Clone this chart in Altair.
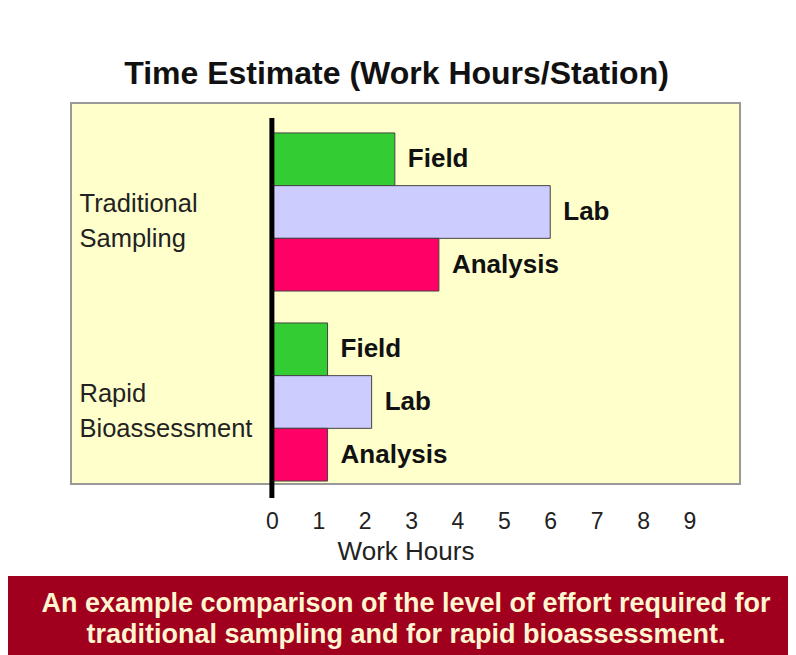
import altair as alt
import pandas as pd

# ---- data ----
groups = ["Traditional Sampling", "Traditional Sampling", "Traditional Sampling",
          "Rapid Bioassessment", "Rapid Bioassessment", "Rapid Bioassessment"]
tasks = ["Field", "Lab", "Analysis", "Field", "Lab", "Analysis"]
hours = [2.65, 6.0, 3.6, 1.2, 2.15, 1.2]

group_order = ["Traditional Sampling", "Rapid Bioassessment"]
task_order = ["Field", "Lab", "Analysis"]
task_colors = ["#33CC33", "#CCCCFF", "#FF0066"]
x_ticks = [0, 1, 2, 3, 4, 5, 6, 7, 8, 9]

title_text = "Time Estimate (Work Hours/Station)"
x_title = "Work Hours"
caption_lines = [
    "An example comparison of the level of effort required for",
    "traditional sampling and for rapid bioassessment.",
]

df = pd.DataFrame({"group": groups, "task": tasks, "hours": hours})
caption_df = pd.DataFrame({"caption": ["\n".join(caption_lines)]})

FONT = "Liberation Sans"

y_enc = alt.Y(
    "group:N",
    sort=group_order,
    scale=alt.Scale(paddingInner=0.168, paddingOuter=0.0866, align=0.91),
    axis=alt.Axis(
        title=None, domain=False, ticks=False, tickSize=0,
        labelPadding=-8, labelAlign="left", labelBaseline="middle",
        labelOffset=-8, labelExpr="split(datum.label, ' ')",
        labelFontSize=25.5, labelLineHeight=35, labelFont=FONT,
        labelColor="#222222", labelLimit=400,
    ),
)
yoff = alt.YOffset("task:N", sort=task_order,
                   scale=alt.Scale(paddingInner=0, paddingOuter=0))
x_scale = alt.Scale(domain=[-4.33, 10.09], nice=False, zero=False)
x_axis = alt.Axis(
    values=x_ticks, title=x_title, grid=False, domain=False, ticks=False,
    tickSize=0, labelPadding=26, labelFontSize=23, labelFont=FONT,
    labelColor="#222222", labelFlush=False,
    titleFont=FONT, titleFontSize=26, titleFontWeight="normal",
    titleColor="#222222", titlePadding=5,
)

base = alt.Chart(df)

bars = base.mark_bar(stroke="#444444", strokeWidth=1).encode(
    x=alt.X("hours:Q", scale=x_scale, axis=x_axis),
    x2=alt.datum(0),
    y=y_enc,
    yOffset=yoff,
    color=alt.Color("task:N", scale=alt.Scale(domain=task_order, range=task_colors), legend=None),
)

labels = base.mark_text(
    align="left", baseline="middle", dx=13, fontSize=26, fontWeight="bold",
    font=FONT, color="#111111",
).encode(
    x=alt.X("hours:Q", scale=x_scale),
    y=alt.Y("group:N", sort=group_order),
    yOffset=alt.YOffset("task:N", sort=task_order),
    text="task:N",
)

zero_line = alt.Chart(pd.DataFrame({"v": [0]})).mark_rule(color="black", strokeWidth=5).encode(
    x=alt.X("v:Q", scale=x_scale),
    y=alt.value(15),
    y2=alt.value(395),
)

banner = alt.Chart(caption_df).mark_rect(color="#A0001E").encode(
    x=alt.value(-63), x2=alt.value(717), y=alt.value(473), y2=alt.value(554),
)

caption = alt.Chart(caption_df).mark_text(
    align="center", baseline="middle", lineBreak="\n", lineHeight=31,
    fontSize=27, fontWeight="bold", font=FONT, color="#FFF5D0",
).encode(
    x=alt.value(335), y=alt.value(501), text="caption:N",
)

chart = alt.layer(banner, bars, zero_line, labels, caption).properties(
    width=669,
    height=381,
    title=alt.TitleParams(title_text, fontSize=32, font=FONT, fontWeight="bold",
                          color="#111111", offset=12, anchor="middle", dx=-9),
    padding={"left": 0, "top": 50, "right": 0, "bottom": 0},
    background="white",
).configure_view(fill="#FFFFCC", stroke="#999999", strokeWidth=2)

chart.save("out.html", embed_options={"renderer": "svg", "actions": False})
